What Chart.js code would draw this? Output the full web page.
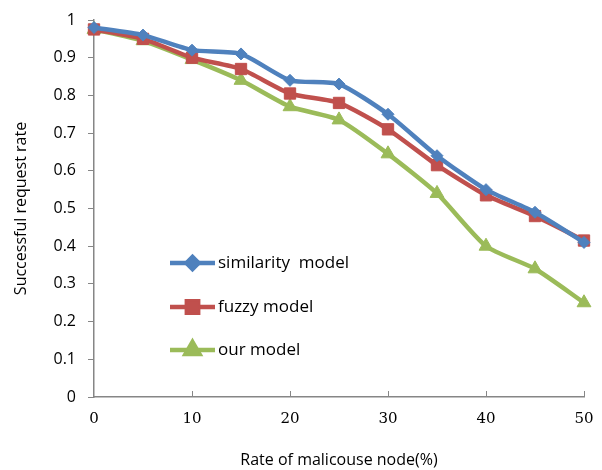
<!DOCTYPE html>
<html>
<head>
<meta charset="utf-8">
<script src="https://cdn.jsdelivr.net/npm/chart.js@4"></script>
<style>
  html, body { margin: 0; padding: 0; background: #fff; }
  #wrap { width: 602px; height: 470px; }
</style>
</head>
<body>
<div id="wrap"><canvas id="chart" width="602" height="470"></canvas></div>
<script>
(function () {
    "use strict";

    const rates = [0, 5, 10, 15, 20, 25, 30, 35, 40, 45, 50];
    const similarity = [0.98, 0.96, 0.92, 0.91, 0.84, 0.83, 0.75, 0.64, 0.55, 0.49, 0.41];
    const fuzzy = [0.975, 0.95, 0.90, 0.87, 0.805, 0.78, 0.71, 0.615, 0.535, 0.48, 0.415];
    const ours = [0.975, 0.945, 0.895, 0.84, 0.77, 0.735, 0.645, 0.54, 0.40, 0.34, 0.25];
    const seriesNames = ['similarity  model', 'fuzzy model', 'our model'];
    const xTicks = [0, 10, 20, 30, 40, 50];
    const yTicks = [0, 0.1, 0.2, 0.3, 0.4, 0.5, 0.6, 0.7, 0.8, 0.9, 1];

    const blue = '#4F81BD';
    const red = '#C0504D';
    const green = '#9BBB59';
    const axisGray = '#868686';

    function toPoints(values) {
        return values.map((v, i) => ({ x: rates[i], y: v }));
    }

    function series(label, values, color, style, radius) {
        return {
            label: label,
            data: toPoints(values),
            borderColor: color,
            backgroundColor: color,
            borderWidth: 4.5,
            pointStyle: style,
            pointRadius: radius,
            pointHoverRadius: radius,
            pointBorderWidth: 1,
            pointBorderColor: color,
            tension: 0.2,
            clip: false,
            fill: false
        };
    }

    // inward x ticks and the legend box inside the plot
    const extras = {
        id: 'extras',
        afterDraw(chart) {
            const ctx = chart.ctx;
            const xs = chart.scales.x;
            const bottom = chart.chartArea.bottom;
            ctx.save();
            ctx.strokeStyle = axisGray;
            ctx.lineWidth = 1;
            xTicks.forEach(t => {
                if (t === 0) return;
                const px = Math.round(xs.getPixelForValue(t)) + 0.5;
                ctx.beginPath();
                ctx.moveTo(px, bottom);
                ctx.lineTo(px, bottom - 6);
                ctx.stroke();
            });

            const styles = ['rectRot', 'rect', 'triangle'];
            const radii = [6, 8, 8];
            const x0 = 170, x1 = 215;
            const rows = [263, 307, 350];
            ctx.font = '17px "Open Sans", sans-serif';
            ctx.textBaseline = 'middle';
            chart.data.datasets.forEach((ds, i) => {
                const y = rows[i];
                ctx.strokeStyle = ds.borderColor;
                ctx.lineWidth = 4.5;
                ctx.beginPath();
                ctx.moveTo(x0, y);
                ctx.lineTo(x1, y);
                ctx.stroke();
                ctx.fillStyle = ds.borderColor;
                Chart.helpers.drawPoint(ctx, {
                    pointStyle: styles[i], radius: radii[i], borderWidth: 1
                }, (x0 + x1) / 2, y);
                ctx.fill();
                ctx.fillStyle = '#000';
                ctx.fillText(ds.label, 218, y);
            });
            ctx.restore();
        }
    };

    const ctx = document.getElementById('chart').getContext('2d');

    new Chart(ctx, {
        type: 'line',
        data: {
            datasets: [
                series(seriesNames[0], similarity, blue, 'rectRot', 6),
                series(seriesNames[1], fuzzy, red, 'rect', 8),
                series(seriesNames[2], ours, green, 'triangle', 8)
            ]
        },
        options: {
            responsive: false,
            animation: false,
            layout: { autoPadding: false, padding: { top: 20, right: 18, bottom: 0, left: 12 } },
            plugins: {
                legend: { display: false },
                tooltip: { enabled: false }
            },
            scales: {
                x: {
                    type: 'linear',
                    min: 0,
                    max: 50,
                    afterBuildTicks(scale) {
                        scale.ticks = xTicks.map(v => ({ value: v }));
                    },
                    afterFit(scale) {
                        scale.height = 73;
                        scale.paddingLeft = 0;
                        scale.paddingRight = 0;
                    },
                    grid: { display: false, drawTicks: false },
                    border: { color: axisGray, width: 1.5 },
                    ticks: {
                        color: '#000',
                        padding: 13,
                        font: { family: '"DejaVu Serif", "Liberation Serif", serif', size: 15 }
                    },
                    title: {
                        display: true,
                        text: 'Rate of malicouse node(%)',
                        color: '#000',
                        padding: { top: 12, bottom: 0 },
                        font: { family: '"Open Sans", sans-serif', size: 16 }
                    }
                },
                y: {
                    min: 0,
                    max: 1,
                    afterBuildTicks(scale) {
                        scale.ticks = yTicks.map(v => ({ value: v }));
                    },
                    afterFit(scale) {
                        scale.width = 82;
                        scale.paddingTop = 0;
                        scale.paddingBottom = 0;
                    },
                    grid: { drawOnChartArea: false, tickLength: 6, color: axisGray },
                    border: { color: axisGray, width: 1.5 },
                    ticks: {
                        color: '#000',
                        padding: 12,
                        font: { family: '"Open Sans", sans-serif', size: 16 },
                        callback: v => String(+v.toFixed(1))
                    },
                    title: {
                        display: true,
                        text: 'Successful request rate',
                        color: '#000',
                        padding: { top: 0, bottom: 4 },
                        font: { family: '"Open Sans", sans-serif', size: 16 }
                    }
                }
            }
        },
        plugins: [extras]
    });
})();
</script>
</body>
</html>
